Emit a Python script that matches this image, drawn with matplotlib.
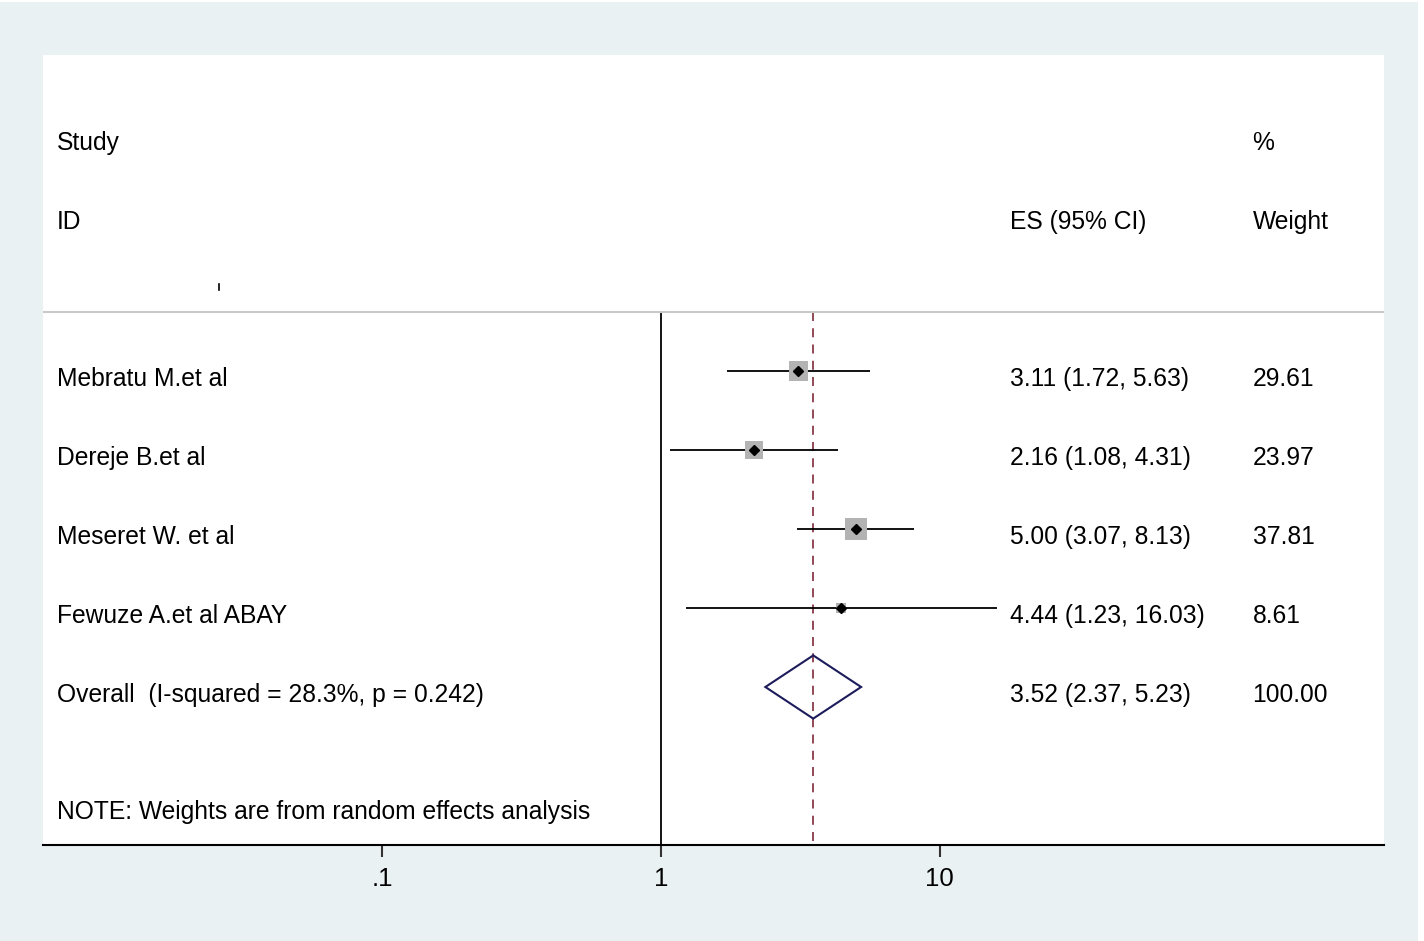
import numpy as np
import matplotlib
matplotlib.use("Agg")
import matplotlib.pyplot as plt
from matplotlib.transforms import blended_transform_factory
from matplotlib.patches import Polygon, Rectangle

plt.rcParams['font.family'] = ['Liberation Sans', 'DejaVu Sans']

studies = ["Mebratu M.et al", "Dereje B.et al", "Meseret W. et al", "Fewuze A.et al ABAY"]
es = [3.11, 2.16, 5.00, 4.44]
lo = [1.72, 1.08, 3.07, 1.23]
hi = [5.63, 4.31, 8.13, 16.03]
weights = [29.61, 23.97, 37.81, 8.61]
overall_label = "Overall  (I-squared = 28.3%, p = 0.242)"
overall = (3.52, 2.37, 5.23)
overall_weight = "100.00"
note = "NOTE: Weights are from random effects analysis"
xticks = [0.1, 1, 10]
xticklabels = [".1", "1", "10"]

W, H = 1424, 941
fig = plt.figure(figsize=(W / 100, H / 100), dpi=100, facecolor='white')
fig.patches.append(Rectangle((0, 0), 1418 / W, (H - 2) / H, transform=fig.transFigure,
                             facecolor='#EAF1F3', edgecolor='none', zorder=-10))
ax = fig.add_axes([43 / W, (H - 845) / H, (1384 - 43) / W, (845 - 55) / H])
ax.set_facecolor('white')
ax.set_xscale('log')
ax.set_xlim(10 ** -2.219, 10 ** 2.596)
ax.set_ylim(6.0, -4.0)
for s in ['top', 'left', 'right']:
    ax.spines[s].set_visible(False)
ax.spines['bottom'].set_linewidth(1.5)
ax.spines['bottom'].set_color('black')
ax.set_yticks([])
ax.set_xticks(xticks)
ax.set_xticklabels(xticklabels, fontsize=18.5)
ax.xaxis.set_minor_locator(matplotlib.ticker.NullLocator())
ax.tick_params(axis='x', direction='out', length=8.6, width=1.5, color='#333333', pad=7.5)

tr = blended_transform_factory(ax.transAxes, ax.transData)
fs = 17.7
bl = 0.19  # baseline offset below row centre

def t(x, y, s):
    ax.text(x, y, s, transform=tr, fontsize=fs, va='baseline', ha='left')

# header
t(0.0104, -2.797, "Study")
t(0.902, -2.797, "%")
t(0.0104, -1.794, "ID")
t(0.721, -1.794, "ES (95% CI)")
t(0.902, -1.794, "Weight")
ax.plot([0.131, 0.131], [-1.1, -1.03], transform=tr, color='black', lw=1.2)
ax.axhline(-0.75, color='#c8c8c8', lw=1.5)

# reference lines
ax.plot([1, 1], [-0.75, 6.0], color='black', lw=1.3, zorder=1)
ax.plot([overall[0], overall[0]], [-0.75, 6.0], color='#8B3A4A', lw=1.3,
        dashes=(5, 4), zorder=1)

ypos = np.arange(len(studies))
ax.hlines(ypos, lo, hi, color='black', lw=1.3, zorder=2)
ax.scatter(es, ypos, s=np.array(weights) * 6.5, marker='s', color='#b3b3b3',
           edgecolors='none', zorder=3)
ax.plot(es, ypos, linestyle='none', marker='D', markersize=5, color='black', zorder=4)

for i, name in enumerate(studies):
    t(0.0104, i + bl, name)
    t(0.721, i + bl, f"{es[i]:.2f} ({lo[i]:.2f}, {hi[i]:.2f})")
    t(0.902, i + bl, f"{weights[i]:.2f}")

yo = len(studies)
est, l, h = overall
dia = Polygon([[l, yo], [est, yo - 0.4], [h, yo], [est, yo + 0.4]], closed=True,
              facecolor='none', edgecolor='#1c1c5c', lw=1.5, zorder=5)
ax.add_patch(dia)
t(0.0104, yo + bl, overall_label)
t(0.721, yo + bl, f"{est:.2f} ({l:.2f}, {h:.2f})")
t(0.902, yo + bl, overall_weight)
t(0.0104, 5.675, note)

fig.savefig("out.png", dpi=100, facecolor=fig.get_facecolor())
